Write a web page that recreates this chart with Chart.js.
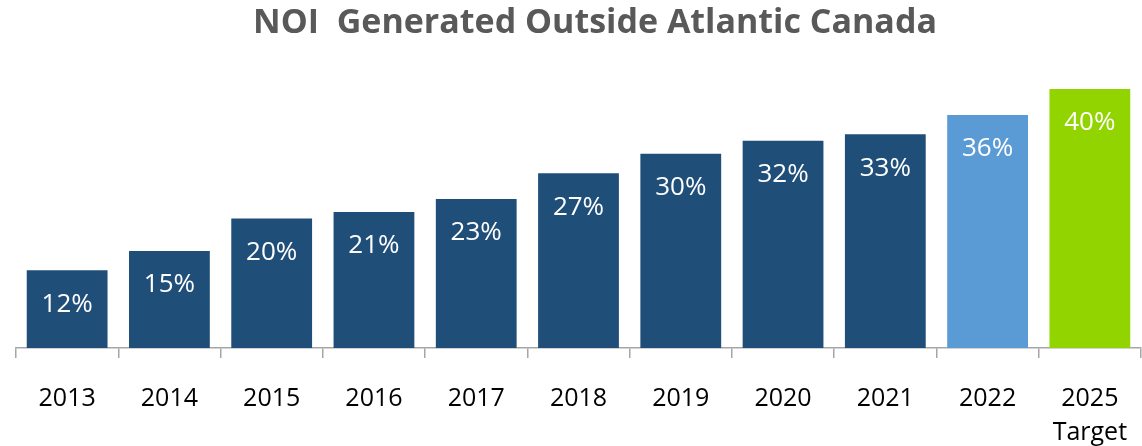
<!DOCTYPE html>
<html><head><meta charset="utf-8">
<script src="https://cdn.jsdelivr.net/npm/chart.js@4/dist/chart.umd.min.js"></script>
<style>html,body{margin:0;padding:0;background:#fff}#wrap{width:1142px;height:446px}</style>
</head><body><div id="wrap"><canvas id="c" width="1142" height="446"></canvas></div>
<script>
const categories = ["2013","2014","2015","2016","2017","2018","2019","2020","2021","2022",["2025","Target"]];
const values = [12,15,20,21,23,27,30,32,33,36,40];
const valueLabels = ["12%","15%","20%","21%","23%","27%","30%","32%","33%","36%","40%"];
const barColors = ["#1F4E79","#1F4E79","#1F4E79","#1F4E79","#1F4E79","#1F4E79","#1F4E79","#1F4E79","#1F4E79","#5B9BD5","#92D400"];
const titleText = "NOI  Generated Outside Atlantic Canada";
const FONT = "'Open Sans', 'Noto Sans', sans-serif";

const labelPlugin = {
  id: 'labels',
  afterDatasetsDraw(chart) {
    const ctx = chart.ctx;
    const meta = chart.getDatasetMeta(0);
    ctx.save();
    ctx.fillStyle = '#ffffff';
    ctx.font = '26px ' + FONT;
    ctx.textAlign = 'center';
    ctx.textBaseline = 'middle';
    meta.data.forEach((bar, i) => {
      ctx.fillText(valueLabels[i], bar.x, bar.y + 34);
    });
    ctx.restore();
  }
};
const titlePlugin = {
  id: 'ttl',
  afterDraw(chart) {
    const ctx = chart.ctx;
    ctx.save();
    ctx.fillStyle = '#595959';
    ctx.font = 'bold 34px ' + FONT;
    ctx.textAlign = 'center';
    ctx.textBaseline = 'middle';
    ctx.fillText(titleText, 595, 23);
    ctx.restore();
  }
};

new Chart(document.getElementById('c'), {
  type: 'bar',
  data: {
    labels: categories,
    datasets: [{ data: values, backgroundColor: barColors, borderWidth: 0, barPercentage: 0.79, categoryPercentage: 1 }]
  },
  options: {
    responsive: false,
    animation: false,
    events: [],
    layout: { padding: { left: 16, right: 1, top: 89, bottom: 0 } },
    plugins: { legend: { display: false }, tooltip: { enabled: false }, title: { display: false } },
    scales: {
      y: { display: false, min: 0, max: 40 },
      x: {
        afterFit(scale) { scale.height = 98; scale.paddingLeft = 0; scale.paddingRight = 0; },
        border: { display: true, color: '#a6a6a6', width: 1.5 },
        grid: { display: true, drawOnChartArea: false, drawTicks: true, tickLength: 10, color: '#a6a6a6', lineWidth: 1.5, offset: true },
        ticks: { color: '#000000', font: { family: FONT, size: 25, lineHeight: 1.36 }, padding: 24, maxRotation: 0, autoSkip: false }
      }
    }
  },
  plugins: [labelPlugin, titlePlugin]
});
</script></body></html>
